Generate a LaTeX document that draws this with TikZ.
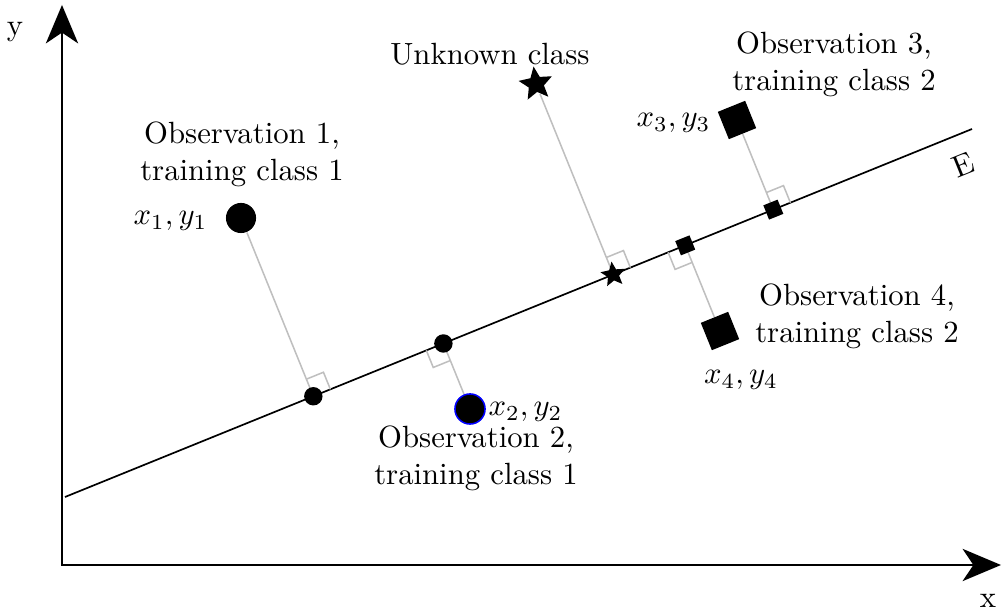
\documentclass[tikz,border=0pt]{standalone}
\usetikzlibrary{arrows.meta, positioning, shapes.geometric, calc, backgrounds}

\begin{document}
\begin{tikzpicture}[x=0.01145cm, y=-0.01145cm,
  axtip/.tip={Stealth[length=12.5pt, width=10.5pt, inset=3.5pt]},
  axisline/.style={line width=0.65pt},
  eline/.style={line width=0.55pt},
  projline/.style={gray!50, line width=0.5pt},
  bigdot/.style={circle, fill=black, inner sep=0pt, minimum size=9.8pt},
  smalldot/.style={circle, fill=black, inner sep=0pt, minimum size=6pt},
  bigbox/.style={rectangle, fill=black, inner sep=0pt, minimum size=9.6pt, rotate=22},
  smallbox/.style={rectangle, fill=black, inner sep=0pt, minimum size=5pt, rotate=22},
  bigstar/.style={star, star points=5, star point ratio=2.2, shape border rotate=8, fill=black, inner sep=0pt, minimum size=11.5pt},
  smallstar/.style={star, star points=5, star point ratio=2.2, shape border rotate=8, fill=black, inner sep=0pt, minimum size=8.5pt},
  caption/.style={align=center, inner sep=0pt}]
  \useasboundingbox (0,0) rectangle (1002,611);
  % pixel coordinates of the reference, y pointing down
  \coordinate (O) at (62,565);
  \coordinate (xend) at (1001,565);
  \coordinate (yend) at (62,5);
  \coordinate (E1) at (65,497);
  \coordinate (E2) at (972,129);

  % observations
  \node[bigdot] (p1) at (241,218) {};
  \node[bigdot, draw=blue, line width=0.5pt] (p2) at (470,409) {};
  \node[bigstar] (pu) at (536,84) {};
  \node[bigbox] (p3) at (737,120) {};
  \node[bigbox] (p4) at (720,331) {};

  % feet of the perpendiculars on E
  \coordinate (f1) at ($(E1)!(p1)!(E2)$);
  \coordinate (f2) at ($(E1)!(p2)!(E2)$);
  \coordinate (fu) at ($(E1)!(pu)!(E2)$);
  \coordinate (f3) at ($(E1)!(p3)!(E2)$);
  \coordinate (f4) at ($(E1)!(p4)!(E2)$);
  \node[smalldot] (m1) at (f1) {};
  \node[smalldot] (m2) at (f2) {};
  \node[smallstar] (mu) at (fu) {};
  \node[smallbox] (m3) at (f3) {};
  \node[smallbox] (m4) at (f4) {};

  \begin{scope}[on background layer]
    \draw[axisline, axtip-axtip] (yend) |- (xend);
    \draw[eline] (E1) -- (E2);
    \foreach \p/\f in {p1/f1, p2/f2, pu/fu, p3/f3, p4/f4} {
      \draw[projline] (\p) -- (\f);
      \coordinate (ra) at ($(\f)!6pt!(\p)$);
      \coordinate (rb) at ($(\f)!6pt!-90:(\p)$);
      \draw[projline] (ra) -- ($(ra)+(rb)-(\f)$) -- (rb);
    }
  \end{scope}

  % labels
  \node (ylab) at (15,32) {y};
  \node (xlab) at (988,601) {x};
  \node[rotate=22] (elab) at (963,165) {E};
  \node[caption] (c1) at (242,154) {Observation 1,\\training class 1};
  \node[caption] (c2) at (476,458) {Observation 2,\\training class 1};
  \node[caption] (cu) at (490,54) {Unknown class};
  \node[caption] (c3) at (834,64) {Observation 3,\\training class 2};
  \node[caption] (c4) at (857,316) {Observation 4,\\training class 2};
  \node[inner sep=0pt, anchor=base east] (l1) at (208,225) {$x_1, y_1$};
  \node[inner sep=0pt, anchor=base west] (l2) at (488,416) {$x_2, y_2$};
  \node[inner sep=0pt, anchor=base east] (l3) at (711,127) {$x_3, y_3$};
  \node[inner sep=0pt, anchor=base] (l4) at (741,384) {$x_4, y_4$};
\end{tikzpicture}
\end{document}
